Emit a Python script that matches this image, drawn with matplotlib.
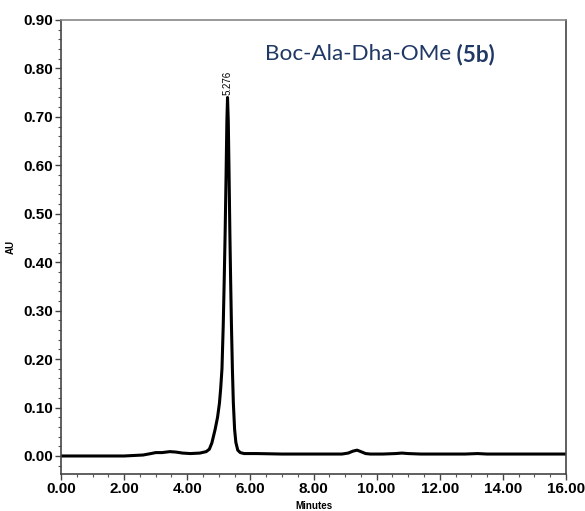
import matplotlib.pyplot as plt
from matplotlib.ticker import MultipleLocator, FormatStrFormatter

# Cromatograma (tempo em minutos, absorbância em AU)
tempo = [0.00, 1.00, 2.00, 2.30, 2.60, 2.85, 3.00, 3.20, 3.45, 3.65, 3.85,
         4.10, 4.40, 4.60, 4.70, 4.78, 4.88, 4.96, 5.02, 5.06, 5.10, 5.14,
         5.17, 5.20, 5.23, 5.255, 5.276, 5.30, 5.325, 5.35, 5.375, 5.40, 5.43,
         5.46, 5.50, 5.54, 5.60, 5.68, 5.80, 6.20, 7.00, 8.00, 8.90, 9.10,
         9.25, 9.38, 9.50, 9.65, 9.80, 10.20, 10.60, 10.80, 11.00, 11.40,
         12.00, 12.80, 13.20, 13.50, 14.50, 15.50, 16.00]
absorbancia = [0.000, 0.000, 0.000, 0.001, 0.002, 0.005, 0.007, 0.007, 0.009,
               0.008, 0.006, 0.005, 0.006, 0.009, 0.014, 0.027, 0.054, 0.080,
               0.109, 0.140, 0.180, 0.270, 0.360, 0.460, 0.580, 0.690, 0.740,
               0.690, 0.580, 0.460, 0.360, 0.270, 0.180, 0.110, 0.055, 0.028,
               0.012, 0.007, 0.005, 0.005, 0.004, 0.004, 0.004, 0.006, 0.010,
               0.012, 0.009, 0.005, 0.004, 0.004, 0.005, 0.006, 0.005, 0.004,
               0.004, 0.004, 0.005, 0.004, 0.004, 0.004, 0.004]

pico_tempo = 5.276
pico_altura = 0.740

fig = plt.figure(figsize=(5.85, 5.11), dpi=100)
ax = fig.add_axes([0.1043, 0.0724, 0.8632, 0.8885])

ax.plot(tempo, absorbancia, color="black", linewidth=2.2, solid_joinstyle="round")

ax.set_xlim(0, 16)
ax.set_ylim(-0.0372, 0.90)

ax.xaxis.set_major_locator(MultipleLocator(2))
ax.xaxis.set_minor_locator(MultipleLocator(0.5))
ax.yaxis.set_major_locator(MultipleLocator(0.1))
ax.yaxis.set_minor_locator(MultipleLocator(0.02))
ax.xaxis.set_major_formatter(FormatStrFormatter("%.2f"))
ax.yaxis.set_major_formatter(FormatStrFormatter("%.2f"))

for lado in ["left", "right", "top", "bottom"]:
    ax.spines[lado].set_color("#444444")
    ax.spines[lado].set_linewidth(1.2)
ax.spines["top"].set_color("#888888")

ax.tick_params(which="major", direction="out", length=4, width=1, color="#444444",
               labelsize=11, pad=2)
ax.tick_params(which="minor", direction="out", length=2.5, width=0.8, color="#555555")
for rotulo in ax.get_xticklabels() + ax.get_yticklabels():
    rotulo.set_fontweight("bold")
    rotulo.set_family("Liberation Sans")

ax.set_xlabel("Minutes", fontsize=7, fontweight="bold", family="Liberation Sans", labelpad=3)
ax.set_ylabel("AU", fontsize=7, fontweight="bold", family="Liberation Sans", labelpad=5)

# Tempo de retenção do pico principal
ax.annotate(f"{pico_tempo:.3f}", xy=(pico_tempo, pico_altura), xytext=(0, 2),
            textcoords="offset points", rotation=90, ha="center", va="bottom",
            fontsize=7, family="Liberation Sans")

nome = ax.text(0.404, 0.925, "Boc-Ala-Dha-OMe", transform=ax.transAxes, fontsize=16.2,
               color="#1F3864", family="Lato", ha="left", va="center")
ax.annotate(" (5b)", xy=(1, 0.5), xycoords=nome, fontsize=16.2, color="#1F3864",
            family="Lato", fontweight="bold", ha="left", va="center")

plt.savefig("out.png", dpi=100)
